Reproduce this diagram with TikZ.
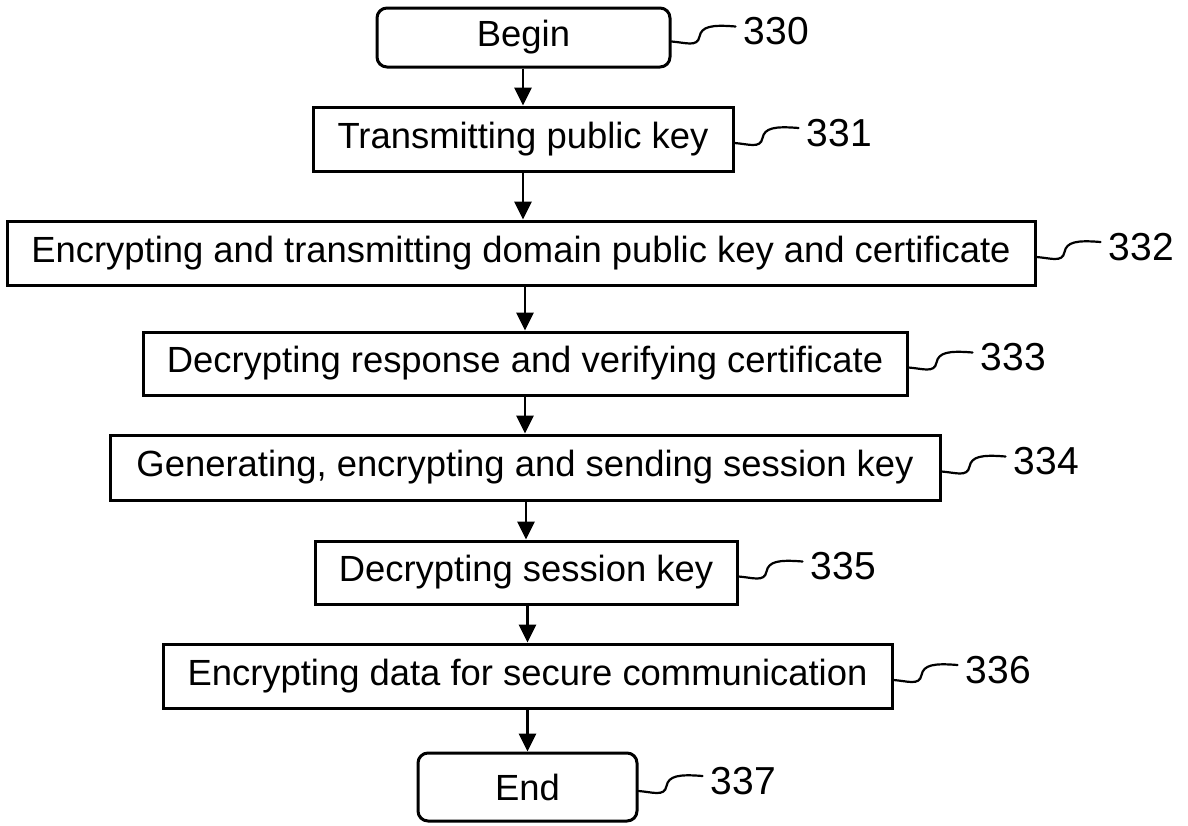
\documentclass[tikz,border=0pt]{standalone}
\usepackage{fontspec}
\setmainfont{Liberation Sans}
\usetikzlibrary{arrows.meta,calc}
\begin{document}
\begin{tikzpicture}[x=0.5pt,y=-0.5pt,
  every node/.style={font=\fontsize{18.2}{22}\selectfont},
  box/.style={draw,line width=1.5pt,inner sep=0pt,align=center},
  term/.style={box,rounded corners=5pt},
  arr/.style={line width=1.4pt,-{Triangle[length=9pt,width=8.5pt]}},
  squig/.style={line width=1.1pt,line cap=round,to path={.. controls ($(\tikztostart)+(14,1)$) and ($(\tikztostart)+(26,6)$) .. ($(\tikztostart)+(28,-5)$) .. controls ($(\tikztostart)+(30,-15)$) and ($(\tikztostart)+(40,-17)$) .. (\tikztotarget)}},
  num/.style={anchor=west,inner sep=0pt,font=\fontsize{19.5}{23}\selectfont}]
\useasboundingbox (0,0) rectangle (1188,825);

\node[term,minimum width=146.5pt,minimum height=29.5pt] (b0) at (523.5,37.5) {Begin};
\node[box,minimum width=210pt,minimum height=32pt] (b1) at (523,139) {Transmitting public key};
\node[box,minimum width=514pt,minimum height=32pt] (b2) at (521,253) {Encrypting and transmitting domain public key and certificate};
\node[box,minimum width=382pt,minimum height=31.5pt] (b3) at (525,363.5) {Decrypting response and verifying certificate};
\node[box,minimum width=415pt,minimum height=32.5pt] (b4) at (525,467.5) {Generating, encrypting and sending session key};
\node[box,minimum width=211pt,minimum height=31.5pt] (b5) at (526,572.5) {Decrypting session key};
\node[box,minimum width=364.5pt,minimum height=32pt] (b6) at (527.5,676) {Encrypting data for secure communication};
\node[term,minimum width=109.5pt,minimum height=34pt] (b7) at (527.5,787) {End};

\draw[arr] (b0.south -| b1.north) -- (b1.north);
\draw[arr] (b1.south) -- (b1.south |- b2.north);
\draw[arr] (b2.south -| b3.north) -- (b3.north);
\draw[arr] (b3.south -| b4.north) -- (b4.north);
\draw[arr] (b4.south -| b5.north) -- (b5.north);
\draw[arr] (b5.south -| b6.north) -- (b6.north);
\draw[arr] (b6.south -| b7.north) -- (b7.north);

\foreach \i in {0,...,7}{
  \pgfmathtruncatemacro\n{330+\i}
  \coordinate (s\i) at ($(b\i.east)+(0,4)$);
  \coordinate (e\i) at ($(s\i)+(64,-15)$);
  \node[num] (l\i) at ($(e\i)+(8,5)$) {\n};
  \draw[squig] (s\i) to (e\i);
}
\end{tikzpicture}
\end{document}
